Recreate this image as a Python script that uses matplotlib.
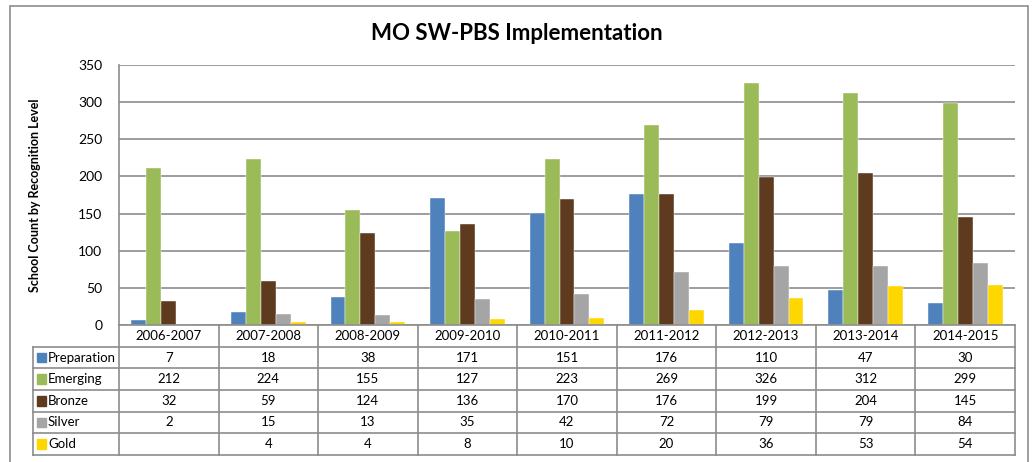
import numpy as np
import matplotlib
matplotlib.use("Agg")
import matplotlib.pyplot as plt
from matplotlib.patches import Rectangle

plt.rcParams['font.family'] = ['Lato', 'DejaVu Sans']

# data
years = ["2006-2007", "2007-2008", "2008-2009", "2009-2010", "2010-2011",
         "2011-2012", "2012-2013", "2013-2014", "2014-2015"]
levels = ["Preparation", "Emerging", "Bronze", "Silver", "Gold"]
preparation = [7, 18, 38, 171, 151, 176, 110, 47, 30]
emerging = [212, 224, 155, 127, 223, 269, 326, 312, 299]
bronze = [32, 59, 124, 136, 170, 176, 199, 204, 145]
silver = [2, 15, 13, 35, 42, 72, 79, 79, 84]
gold = [None, 4, 4, 8, 10, 20, 36, 53, 54]
colors = ["#4F81BD", "#9BBB59", "#5E3A1E", "#A5A5A5", "#FFD700"]

series = [preparation, emerging, bronze, silver, gold]

W, H = 1032, 462
fig = plt.figure(figsize=(W / 100, H / 100), dpi=100)

# outer chart frame
fig.patches.append(Rectangle((10 / W, -0.05), (1028 - 10) / W, 1.05 - 6 / H,
                             transform=fig.transFigure, fill=False,
                             edgecolor="#8C8C8C", linewidth=1.2))

# bar chart area
x0, x1, ytop, ybot = 119, 1015, 65, 325
ax = fig.add_axes([x0 / W, 1 - ybot / H, (x1 - x0) / W, (ybot - ytop) / H])
n = len(years)
x = np.arange(n)
bw = 0.15
for k, (vals, c) in enumerate(zip(series, colors)):
    v = [0 if a is None else a for a in vals]
    ax.bar(x + 0.5 + (k - 2) * bw, v, width=bw, color=c,
           edgecolor="white", linewidth=0.3, zorder=3)

ax.set_xlim(0, n)
ax.set_ylim(0, 350)
ax.set_yticks(np.arange(0, 351, 50))
ax.yaxis.grid(True, color="#8C8C8C", linewidth=1.2, zorder=0)
ax.set_xticks([])
ax.tick_params(axis="y", length=0, labelsize=10, pad=12)
for s in ["top", "right", "bottom"]:
    ax.spines[s].set_visible(False)
ax.spines["left"].set_color("#8C8C8C")
ax.spines["left"].set_linewidth(1.2)
ax.set_ylabel("School Count by Recognition Level", fontsize=9,
              fontweight="bold", labelpad=27)

fig.text(517 / W, 1 - 33 / H, "MO SW-PBS Implementation", fontsize=16,
         fontweight="bold", ha="center", va="center")

# data table under the chart
tl, tb = 33, 455
leg_w = (x0 - tl) / ((x1 - x0) / n)
tax = fig.add_axes([tl / W, 1 - tb / H, (x1 - tl) / W, (tb - ybot) / H])
tax.set_xlim(-leg_w, n)
nrows = len(levels) + 1
tax.set_ylim(nrows, 0)
tax.axis("off")
lc = "#8C8C8C"
lw = 1.2
# horizontal lines
tax.plot([0, n], [0, 0], color=lc, lw=lw, clip_on=False)
for r in range(1, nrows + 1):
    tax.plot([-leg_w, n], [r, r], color=lc, lw=lw, clip_on=False)
# vertical lines
tax.plot([-leg_w, -leg_w], [1, nrows], color=lc, lw=lw, clip_on=False)
for i in range(n + 1):
    tax.plot([i, i], [0, nrows], color=lc, lw=lw, clip_on=False)

for i, yr in enumerate(years):
    tax.text(i + 0.5, 0.5, yr, ha="center", va="center", fontsize=9.5)
for r, (lab, vals, c) in enumerate(zip(levels, series, colors), start=1):
    tax.add_patch(Rectangle((-leg_w + 0.04, r + 0.28), 0.09, 0.45,
                            color=c, clip_on=False))
    tax.text(-leg_w + 0.15, r + 0.5, lab, ha="left", va="center", fontsize=9.5)
    for i, v in enumerate(vals):
        if v is not None:
            tax.text(i + 0.5, r + 0.5, str(v), ha="center", va="center",
                     fontsize=9.5)

fig.savefig("out.png", dpi=100)
